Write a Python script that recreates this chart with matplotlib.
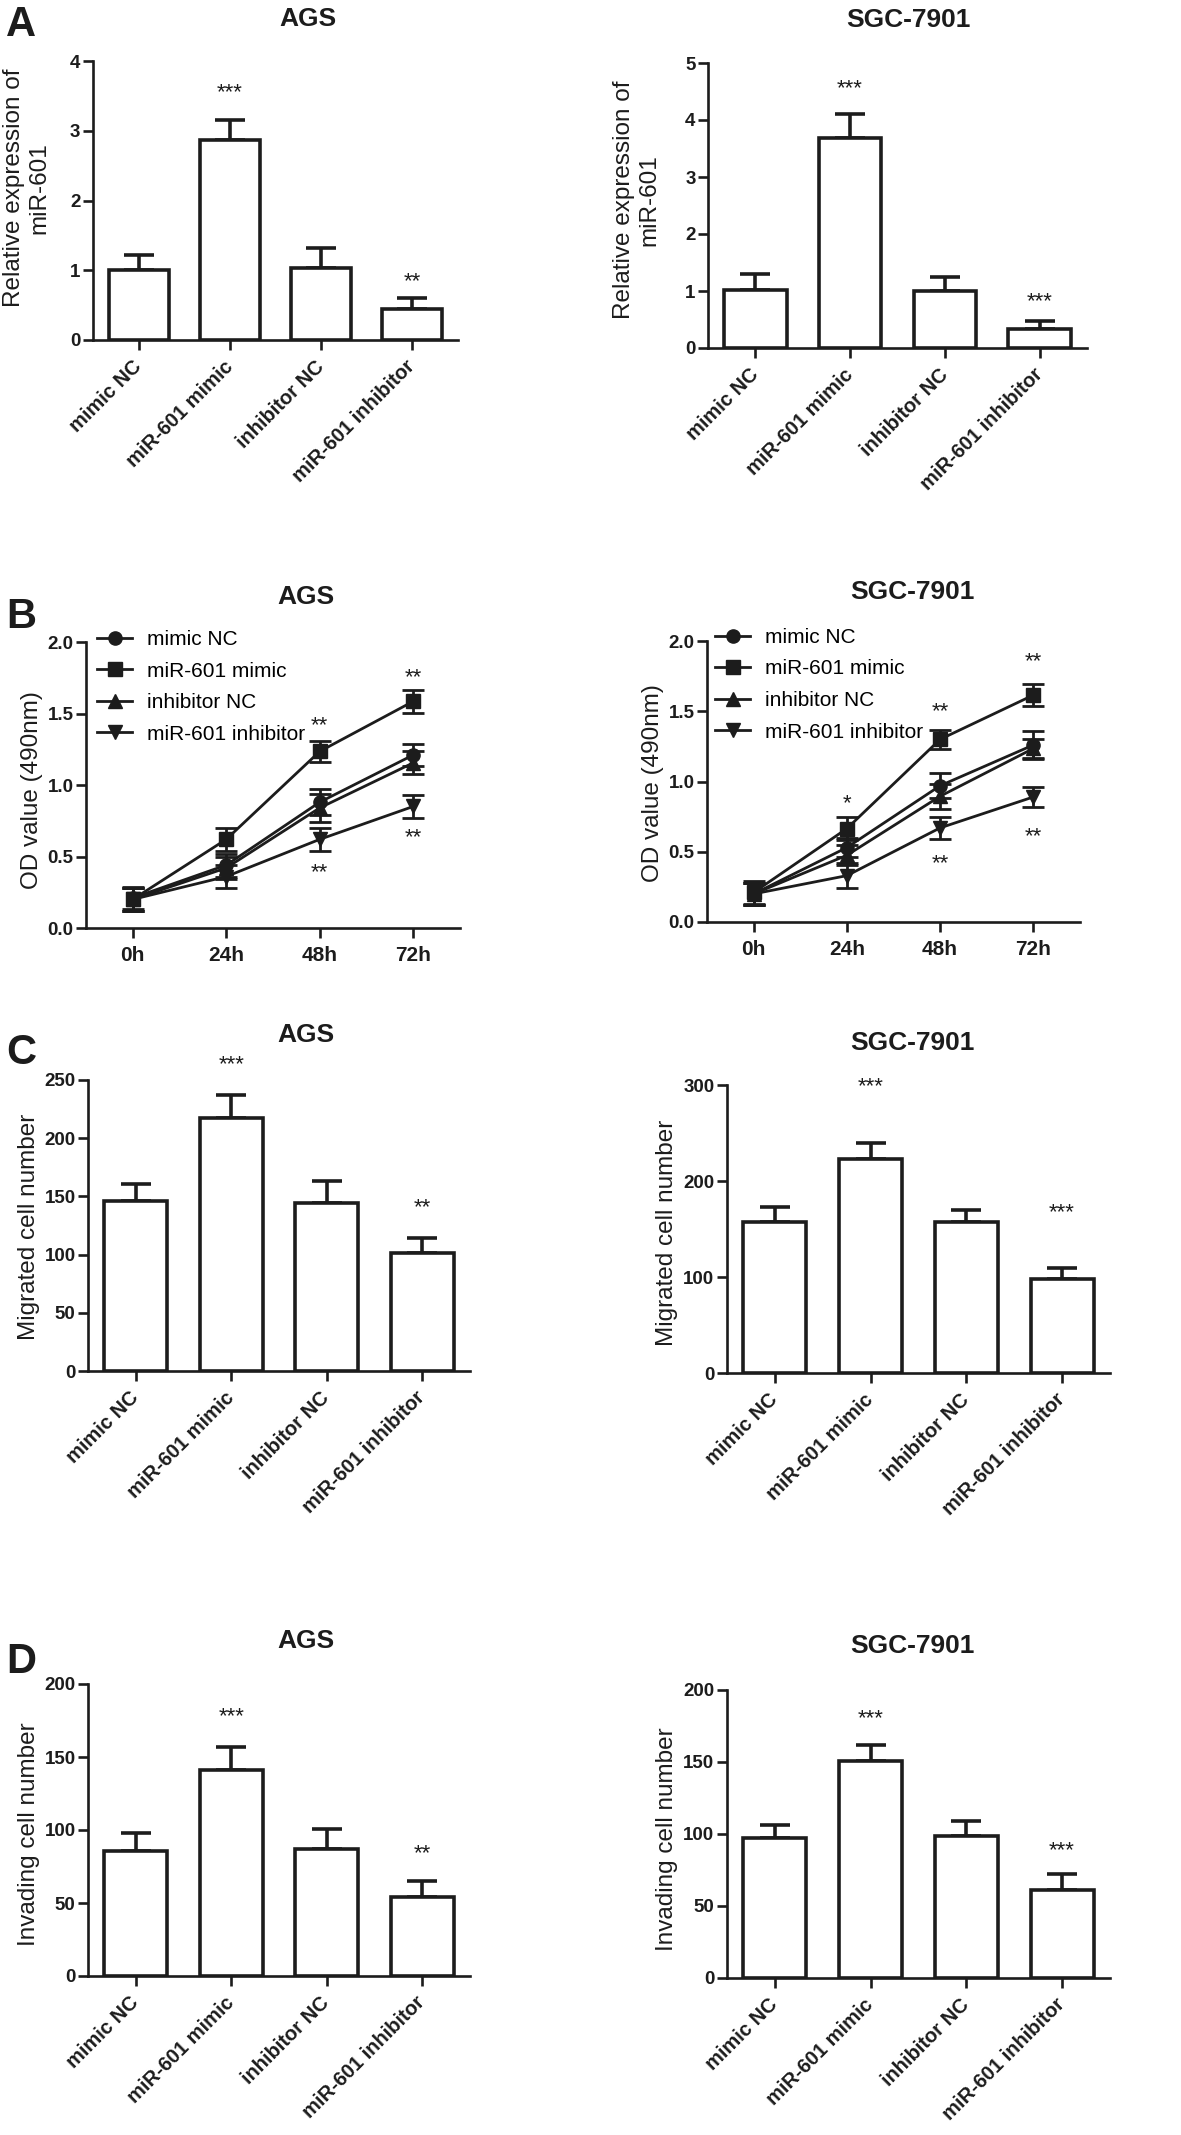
import matplotlib
matplotlib.use('Agg')
import matplotlib.pyplot as plt
import numpy as np

plt.rcParams['font.family'] = ['Liberation Sans', 'DejaVu Sans']

W, H = 1181, 2135
INK = '#1c1c1c'

groups = ['mimic NC', 'miR-601 mimic', 'inhibitor NC', 'miR-601 inhibitor']
times = ['0h', '24h', '48h', '72h']
markers = ['o', 's', '^', 'v']

# A: relative expression of miR-601
a_ags = [1.00, 2.87, 1.03, 0.44]
a_ags_err = [0.22, 0.28, 0.29, 0.16]
a_ags_stars = ['', '***', '', '**']
a_ags_star_y = [0, 3.55, 0, 0.84]
a_sgc = [1.01, 3.69, 1.00, 0.34]
a_sgc_err = [0.28, 0.42, 0.25, 0.13]
a_sgc_stars = ['', '***', '', '***']
a_sgc_star_y = [0, 4.55, 0, 0.81]

# B: OD value (490nm), rows follow `groups`, columns follow `times`
b_ags = [[0.21, 0.44, 0.88, 1.21],
         [0.20, 0.62, 1.235, 1.585],
         [0.20, 0.42, 0.84, 1.155],
         [0.20, 0.36, 0.62, 0.85]]
b_ags_err = [[0.08, 0.08, 0.09, 0.08],
             [0.08, 0.08, 0.075, 0.08],
             [0.08, 0.08, 0.10, 0.08],
             [0.08, 0.08, 0.08, 0.08]]
b_ags_stars = [('**', 2, 1.415), ('**', 3, 1.75), ('**', 2, 0.39), ('**', 3, 0.63)]
b_sgc = [[0.20, 0.53, 0.97, 1.26],
         [0.21, 0.665, 1.30, 1.615],
         [0.20, 0.475, 0.895, 1.235],
         [0.20, 0.33, 0.67, 0.89]]
b_sgc_err = [[0.08, 0.07, 0.09, 0.10],
             [0.08, 0.08, 0.07, 0.08],
             [0.08, 0.07, 0.09, 0.07],
             [0.08, 0.09, 0.08, 0.07]]
b_sgc_stars = [('*', 1, 0.84), ('**', 2, 1.50), ('**', 3, 1.85), ('**', 2, 0.415), ('**', 3, 0.61)]

# C: migrated cell number
c_ags = [146, 217.6, 144, 101]
c_ags_err = [15, 19.5, 19.5, 13]
c_ags_stars = ['', '***', '', '**']
c_ags_star_y = [0, 263, 0, 140]
c_sgc = [157.8, 223, 157, 98]
c_sgc_err = [14.6, 17, 13, 11]
c_sgc_stars = ['', '***', '', '***']
c_sgc_star_y = [0, 298, 0, 167]

# D: invading cell number
d_ags = [85.4, 141.2, 86.7, 54.2]
d_ags_err = [12.3, 15.8, 14.1, 10.8]
d_ags_stars = ['', '***', '', '**']
d_ags_star_y = [0, 177.7, 0, 84]
d_sgc = [97.3, 150.6, 98.7, 61.2]
d_sgc_err = [9.0, 11.0, 10.4, 10.7]
d_sgc_stars = ['', '***', '', '***']
d_sgc_star_y = [0, 179.8, 0, 88.5]

fig = plt.figure(figsize=(W / 100, H / 100), dpi=100)


def px_axes(x0, x1, ytop, ybot):
    return fig.add_axes([x0 / W, 1 - ybot / H, (x1 - x0) / W, (ybot - ytop) / H])


def fig_text(x, y, s, **kw):
    fig.text(x / W, 1 - y / H, s, **kw)


def style_axes(ax, ymax, step, fmt):
    for s in ['top', 'right']:
        ax.spines[s].set_visible(False)
    for s in ['left', 'bottom']:
        ax.spines[s].set_linewidth(1.9)
        ax.spines[s].set_color(INK)
    ax.set_ylim(0, ymax)
    ax.set_xlim(-0.5, 3.5)
    ticks = np.arange(0, ymax + step / 2, step)
    ax.set_yticks(ticks)
    ax.set_yticklabels([fmt.format(t) for t in ticks], fontsize=13.5, fontweight='bold')
    ax.tick_params(axis='both', direction='out', length=7, width=1.9,
                   color=INK, labelcolor=INK)
    ax.tick_params(axis='y', pad=2)
    ax.set_xticks(range(4))


def bar_panel(box, vals, errs, ymax, step, stars, star_y):
    ax = px_axes(*box)
    x = np.arange(4)
    ax.bar(x, vals, width=0.66, color='white', edgecolor=INK, linewidth=2.6, zorder=3)
    ax.errorbar(x, vals, yerr=[np.zeros(4), errs], fmt='none', ecolor=INK,
                elinewidth=2.6, capsize=11, capthick=2.6, zorder=2)
    style_axes(ax, ymax, step, '{:.0f}')
    ax.set_xticklabels(groups, rotation=45, ha='right', va='center',
                       rotation_mode='anchor', fontsize=14.5, fontweight='bold')
    ax.tick_params(axis='x', pad=10)
    for xi, s, sy in zip(x, stars, star_y):
        if s:
            ax.text(xi, sy, s, ha='center', va='center', fontsize=16,
                    color=INK, clip_on=False)
    return ax


def line_panel(box, series, errs, stars, legend_xy):
    ax = px_axes(*box)
    x = np.arange(4)
    for name, vals, err, mk in zip(groups, series, errs, markers):
        ax.errorbar(x, vals, yerr=err, fmt='none', ecolor=INK, elinewidth=2,
                    capsize=8, capthick=2, clip_on=False, zorder=2)
        ax.plot(x, vals, color=INK, lw=2, marker=mk, ms=9.5, label=name,
                clip_on=False, zorder=3)
    style_axes(ax, 2.0, 0.5, '{:.1f}')
    ax.set_xticklabels(times, fontsize=15, fontweight='bold')
    ax.tick_params(axis='x', pad=6)
    for s, xi, sy in stars:
        ax.text(xi, sy, s, ha='center', va='center', fontsize=16, color=INK)
    x0, x1, ytop, ybot = box
    lx = (legend_xy[0] - x0) / (x1 - x0)
    ly = 1 - (legend_xy[1] - ytop) / (ybot - ytop)
    ax.legend(loc='upper left', bbox_to_anchor=(lx, ly), frameon=False,
              fontsize=15, handlelength=1.7, handletextpad=0.7,
              labelspacing=0.6, borderpad=0, borderaxespad=0, numpoints=1)
    return ax


bar_panel((93, 458, 61, 340), a_ags, a_ags_err, 4, 1, a_ags_stars, a_ags_star_y)
bar_panel((708, 1087, 63, 348), a_sgc, a_sgc_err, 5, 1, a_sgc_stars, a_sgc_star_y)
line_panel((86, 460, 642, 928), b_ags, b_ags_err, b_ags_stars, (97, 630))
line_panel((707, 1080, 641, 922), b_sgc, b_sgc_err, b_sgc_stars, (715, 628))
bar_panel((88, 470, 1080, 1371), c_ags, c_ags_err, 250, 50, c_ags_stars, c_ags_star_y)
bar_panel((727, 1110, 1085, 1373), c_sgc, c_sgc_err, 300, 100, c_sgc_stars, c_sgc_star_y)
bar_panel((88, 470, 1684, 1976), d_ags, d_ags_err, 200, 50, d_ags_stars, d_ags_star_y)
bar_panel((727, 1110, 1690, 1978), d_sgc, d_sgc_err, 200, 50, d_sgc_stars, d_sgc_star_y)

# panel letters
for letter, y in [('A', 5), ('B', 597), ('C', 1033), ('D', 1642)]:
    fig_text(6, y, letter, fontsize=30, fontweight='bold', ha='left', va='top', color=INK)

# titles
title_kw = dict(fontsize=19, fontweight='bold', ha='center', va='center', color=INK)
for s, x, y in [('AGS', 308, 19), ('SGC-7901', 908, 20),
                ('AGS', 306, 597), ('SGC-7901', 912, 592),
                ('AGS', 306, 1035), ('SGC-7901', 912, 1043),
                ('AGS', 306, 1641), ('SGC-7901', 912, 1646)]:
    fig_text(x, y, s, **title_kw)

# y axis labels
ylab_kw = dict(fontsize=17.5, rotation=90, ha='center', va='center',
               multialignment='center', color=INK)
for s, x, y in [('Relative expression of\nmiR-601', 27, 188),
                ('Relative expression of\nmiR-601', 637, 200),
                ('OD value (490nm)', 32, 790), ('OD value (490nm)', 653, 783),
                ('Migrated cell number', 29, 1227), ('Migrated cell number', 667, 1233),
                ('Invading cell number', 29, 1834), ('Invading cell number', 667, 1839)]:
    fig_text(x, y, s, **ylab_kw)

fig.savefig('out.png', dpi=100, facecolor='white')
